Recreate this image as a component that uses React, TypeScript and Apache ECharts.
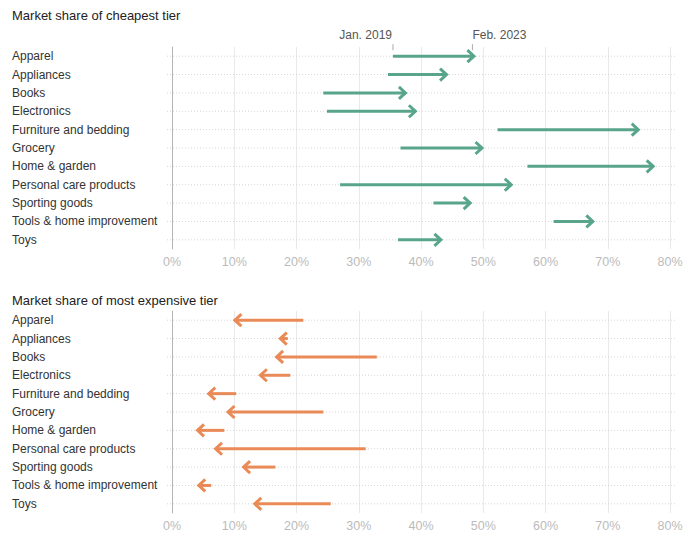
import React, { useEffect, useRef } from "react";
import * as echarts from "echarts";

const categories = [
  "Apparel",
  "Appliances",
  "Books",
  "Electronics",
  "Furniture and bedding",
  "Grocery",
  "Home & garden",
  "Personal care products",
  "Sporting goods",
  "Tools & home improvement",
  "Toys",
];

// Market share (%) Jan. 2019 -> Feb. 2023
const cheapJan2019 = [35.5, 34.7, 24.3, 24.9, 52.3, 36.7, 57.1, 27.0, 42.0, 61.3, 36.3];
const cheapFeb2023 = [48.5, 44.1, 37.5, 39.1, 74.9, 49.8, 77.3, 54.5, 47.9, 67.6, 43.2];
const expJan2019 = [21.1, 18.6, 32.9, 19.0, 10.3, 24.3, 8.4, 31.1, 16.6, 6.3, 25.5];
const expFeb2023 = [10.1, 17.4, 16.8, 14.2, 5.9, 9.0, 4.1, 7.0, 11.5, 4.3, 13.3];

const tickValues = [0, 10, 20, 30, 40, 50, 60, 70, 80];
const titles = ["Market share of cheapest tier", "Market share of most expensive tier"];
const dateLabels = ["Jan. 2019", "Feb. 2023"];

const FONT = "'Liberation Sans', Arial, sans-serif";

function makeRenderItem(color: string, annotate: boolean) {
  return (params: any, api: any) => {
    const s = api.value(0);
    const e = api.value(1);
    const c = api.value(2);
    const p0 = api.coord([s, c]);
    const p1 = api.coord([e, c]);
    const cs = params.coordSys;
    const y = p0[1];
    const dir = e >= s ? 1 : -1;
    const tipX = p1[0];
    const children: any[] = [
      {
        type: "line",
        shape: { x1: cs.x - 5, y1: y, x2: cs.x + cs.width + 6, y2: y },
        style: { stroke: "#d6d6d6", lineWidth: 1, lineDash: [1, 2] },
        silent: true,
      },
      {
        type: "line",
        shape: { x1: p0[0], y1: y, x2: tipX - dir * 1.5, y2: y },
        style: { stroke: color, lineWidth: 3, lineCap: "butt" },
      },
      {
        type: "polyline",
        shape: {
          points: [
            [tipX - dir * 6.5, y - 6],
            [tipX, y],
            [tipX - dir * 6.5, y + 6],
          ],
        },
        style: { stroke: color, lineWidth: 3, fill: "none", lineJoin: "miter", lineCap: "butt" },
      },
    ];
    if (annotate && params.dataIndex === 0) {
      children.push(
        {
          type: "line",
          shape: { x1: p0[0], y1: y - 12, x2: p0[0], y2: y - 6 },
          style: { stroke: "#aaa", lineWidth: 1 },
        },
        {
          type: "line",
          shape: { x1: p1[0] - 1.5, y1: y - 12, x2: p1[0] - 1.5, y2: y - 6 },
          style: { stroke: "#aaa", lineWidth: 1 },
        },
        {
          type: "text",
          x: p0[0] - 1,
          y: y - 21,
          style: {
            text: dateLabels[0],
            align: "right",
            verticalAlign: "middle",
            fill: "#555",
            font: `12px ${FONT}`,
          },
        },
        {
          type: "text",
          x: p1[0] - 1.5,
          y: y - 21,
          style: {
            text: dateLabels[1],
            align: "left",
            verticalAlign: "middle",
            fill: "#555",
            font: `12px ${FONT}`,
          },
        }
      );
    }
    return { type: "group", children };
  };
}

export default function App() {
  const ref = useRef<HTMLDivElement>(null);
  useEffect(() => {
    document.body.style.margin = "0";
    const chart = echarts.init(ref.current!, undefined, { renderer: "svg" });
    const cheapData = categories.map((_, i) => [cheapJan2019[i], cheapFeb2023[i], i]);
    const expData = categories.map((_, i) => [expJan2019[i], expFeb2023[i], i]);
    const xAxisBase = (gridIndex: number) => ({
      type: "value",
      gridIndex,
      min: tickValues[0],
      max: tickValues[tickValues.length - 1],
      interval: 10,
      axisLine: { show: false },
      axisTick: { show: false },
      axisLabel: {
        formatter: "{value}%",
        color: "#bbb",
        fontSize: 12.5,
        fontFamily: FONT,
        margin: 6,
      },
      splitLine: { show: true, lineStyle: { color: "#e9e9e9", width: 1 } },
    });
    const yAxisBase = (gridIndex: number) => ({
      type: "category",
      gridIndex,
      inverse: true,
      data: categories,
      axisLine: { show: true, lineStyle: { color: "#b5b5b5", width: 1 } },
      axisTick: { show: false },
      axisLabel: {
        align: "left",
        margin: 160,
        color: "#333",
        fontSize: 12,
        fontFamily: FONT,
      },
      splitLine: { show: false },
    });
    chart.setOption({
      animation: false,
      backgroundColor: "#fff",
      title: [
        {
          text: titles[0],
          left: 7,
          top: 4,
          textStyle: { fontSize: 13, fontWeight: "normal", color: "#222", fontFamily: FONT },
        },
        {
          text: titles[1],
          left: 7,
          top: 289,
          textStyle: { fontSize: 13, fontWeight: "normal", color: "#222", fontFamily: FONT },
        },
      ],
      grid: [
        { left: 172, right: 17, top: 47, height: 202 },
        { left: 172, right: 17, top: 311, height: 202 },
      ],
      xAxis: [xAxisBase(0), xAxisBase(1)],
      yAxis: [yAxisBase(0), yAxisBase(1)],
      series: [
        {
          type: "custom",
          xAxisIndex: 0,
          yAxisIndex: 0,
          encode: { x: [0, 1], y: 2 },
          data: cheapData,
          renderItem: makeRenderItem("#58a58c", true),
        },
        {
          type: "custom",
          xAxisIndex: 1,
          yAxisIndex: 1,
          encode: { x: [0, 1], y: 2 },
          data: expData,
          renderItem: makeRenderItem("#e98a57", false),
        },
      ],
    });
    return () => chart.dispose();
  }, []);
  return <div ref={ref} style={{ width: 687, height: 542 }} />;
}
